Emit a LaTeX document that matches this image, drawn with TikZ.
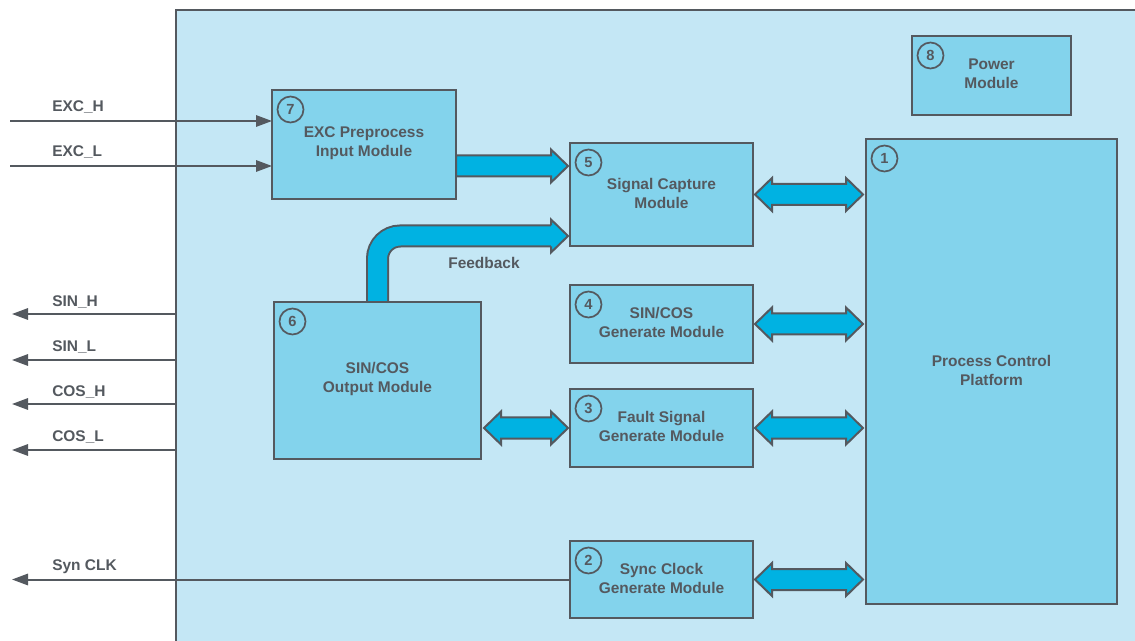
\documentclass[tikz,border=0pt]{standalone}
\usepackage{fontspec}
\setmainfont{Liberation Sans}
\usetikzlibrary{calc,fit,arrows.meta}
\definecolor{bgblue}{HTML}{C4E7F5}
\definecolor{boxblue}{HTML}{83D3EC}
\definecolor{fatcyan}{HTML}{00B2E2}
\definecolor{linegray}{HTML}{54595F}
\pgfdeclarelayer{back}\pgfdeclarelayer{mid}\pgfsetlayers{back,mid,main}
\tikzset{
  framebox/.style={draw=linegray, line width=1.6pt, fill=bgblue, inner sep=0pt, outer sep=0pt},
  modbox/.style={draw=linegray, line width=1.8pt, fill=boxblue, inner sep=0pt, outer sep=0pt},
  modtext/.style={align=center, inner sep=0pt, yshift=1pt,
    font=\fontsize{11.6}{14.3}\selectfont\bfseries, text=linegray},
  numc/.style={circle, draw=linegray, line width=1.3pt, minimum size=19.5pt, inner sep=0pt,
    font=\fontsize{11}{13}\selectfont\bfseries, text=linegray},
  sig/.style={draw=linegray, line width=1.5pt, -{Triangle[length=12pt,width=8.5pt]}},
  lab/.style={anchor=base west, inner sep=0pt, font=\fontsize{11.6}{14}\selectfont\bfseries, text=linegray},
  fat/.style={fill=fatcyan, draw=linegray, line width=1.5pt, line join=miter},
}
\newcommand\fatboth[2]{%
  \filldraw[fat] (#1) -- ($(#1)+(17,-16.5)$) -- ($(#1)+(17,-10.5)$) -- ($(#2)+(-17,-10.5)$)
   -- ($(#2)+(-17,-16.5)$) -- (#2) -- ($(#2)+(-17,16.5)$) -- ($(#2)+(-17,10.5)$)
   -- ($(#1)+(17,10.5)$) -- ($(#1)+(17,16.5)$) -- cycle;}
\newcommand\fatone[2]{%
  \filldraw[fat] ($(#1)+(0,-10.5)$) -- ($(#2)+(-17,-10.5)$) -- ($(#2)+(-17,-16.5)$) -- (#2)
   -- ($(#2)+(-17,16.5)$) -- ($(#2)+(-17,10.5)$) -- ($(#1)+(0,10.5)$) -- cycle;}
\begin{document}
\begin{tikzpicture}[x=0.75pt,y=-0.75pt]
\useasboundingbox (0,0) rectangle (1135,641);
\clip (0,0) rectangle (1135,641);
\begin{pgfonlayer}{back}
\fill[white] (0,0) rectangle (1135,641);
\node[framebox, fit={(176,10) (1160,670)}] (frame) {};
\end{pgfonlayer}
% modules
\node[modbox, fit={(272,90) (456,199)}, label={[modtext]center:EXC Preprocess\\Input Module}] (n7) {};
\node[modbox, fit={(912,36) (1071,115)}, label={[modtext]center:Power\\Module}] (n8) {};
\node[modbox, fit={(570,143) (753,246)}, label={[modtext]center:Signal Capture\\Module}] (n5) {};
\node[modbox, fit={(866,139) (1117,604)}, label={[modtext]center:Process Control\\Platform}] (n1) {};
\node[modbox, fit={(570,285) (753,363)}, label={[modtext]center:SIN/COS\\Generate Module}] (n4) {};
\node[modbox, fit={(274,302) (481,459)}, label={[modtext]center:SIN/COS\\Output Module}] (n6) {};
\node[modbox, fit={(570,389) (753,467)}, label={[modtext]center:Fault Signal\\Generate Module}] (n3) {};
\node[modbox, fit={(570,541) (753,618)}, label={[modtext]center:Sync Clock\\Generate Module}] (n2) {};
% number circles
\foreach \n in {1,...,8}{
  \node[numc] (c\n) at ($(n\n.north west)+(18.5,19.5)$) {\n};
}
% fat arrows
\begin{pgfonlayer}{mid}
  \coordinate (e7s) at ($(n7.east |- n5.north west)+(0,23)$);
  \coordinate (e7t) at ($(n5.north west)+(-2,23)$);
  \fatone{e7s}{e7t}
  % feedback pipe
  \coordinate (fbt) at ($(n5.west)+(-2,41.5)$);
  \coordinate (fbb) at ($(fbt)+(-17,0)$);
  \draw[linegray, line width=17.25pt, rounded corners=17pt] (n6.north) |- (fbb);
  \draw[fatcyan, line width=14.25pt, rounded corners=17pt] (n6.north) |- (fbb);
  \filldraw[fat] ($(fbb)+(0,-10.5)$) -- ($(fbb)+(0,-16.5)$) -- (fbt) -- ($(fbb)+(0,16.5)$) -- ($(fbb)+(0,10.5)$);
\end{pgfonlayer}
\coordinate (a5) at ($(n5.east)+(2,0)$);  \coordinate (b5) at ($(n1.west |- n5.east)+(-3,0)$);
\coordinate (a4) at ($(n4.east)+(2,0)$);  \coordinate (b4) at ($(n1.west |- n4.east)+(-3,0)$);
\coordinate (a3) at ($(n3.east)+(2,0)$);  \coordinate (b3) at ($(n1.west |- n3.east)+(-3,0)$);
\coordinate (a2) at ($(n2.east)+(2,0)$);  \coordinate (b2) at ($(n1.west |- n2.east)+(-3,0)$);
\coordinate (a6) at ($(n6.east |- n3.west)+(3,0)$); \coordinate (b6) at ($(n3.west)+(-2,0)$);
\fatboth{a5}{b5}
\fatboth{a4}{b4}
\fatboth{a3}{b3}
\fatboth{a2}{b2}
\fatboth{a6}{b6}
\node[anchor=base, inner sep=0pt, font=\fontsize{11.6}{14}\selectfont\bfseries, text=linegray] (fbl) at (484,269) {Feedback};
% inputs
\coordinate (iEH) at (10,121);
\coordinate (iEL) at (10,166);
\draw[sig] (iEH) -- (iEH -| n7.west);
\draw[sig] (iEL) -- (iEL -| n7.west);
\node[lab] (lEH) at (52,112) {EXC\_H};
\node[lab] (lEL) at (52,157) {EXC\_L};
% outputs
\coordinate (oSH) at (12,314);
\coordinate (oSL) at (12,360);
\coordinate (oCH) at (12,404);
\coordinate (oCL) at (12,450);
\coordinate (oCK) at (12,580);
\draw[sig] (frame.west |- oSH) -- (oSH);
\draw[sig] (frame.west |- oSL) -- (oSL);
\draw[sig] (frame.west |- oCH) -- (oCH);
\draw[sig] (frame.west |- oCL) -- (oCL);
\draw[sig] (n2.west) -- (oCK |- n2.west);
\node[lab] (lSH) at (52,307) {SIN\_H};
\node[lab] (lSL) at (52,352) {SIN\_L};
\node[lab] (lCH) at (52,397) {COS\_H};
\node[lab] (lCL) at (52,441) {COS\_L};
\node[lab] (lCK) at (52,570) {Syn CLK};
\end{tikzpicture}
\end{document}
